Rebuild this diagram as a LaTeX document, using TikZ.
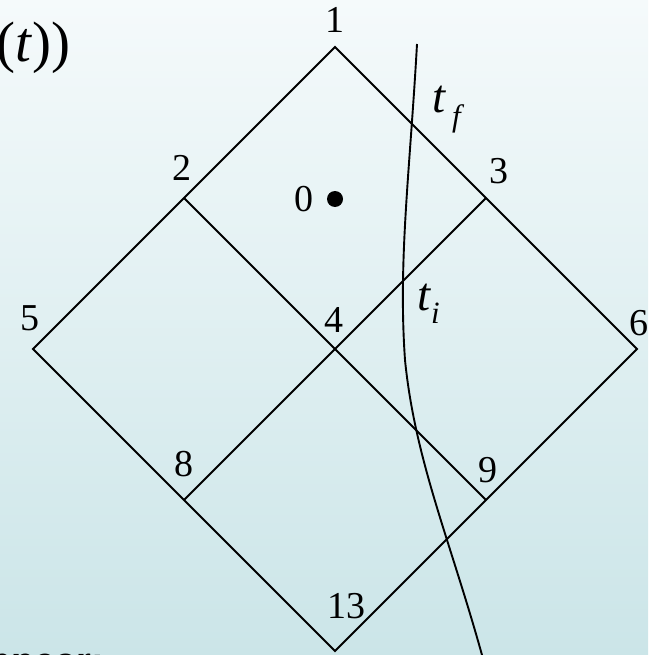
\documentclass[tikz,border=0pt]{standalone}
\usepackage{fontspec}
\setmainfont{Liberation Serif}
\newfontfamily\slidesans{Liberation Sans}
\usetikzlibrary{positioning}
\definecolor{SlideTop}{HTML}{F5FAFB}
\definecolor{SlideBottom}{HTML}{CBE5E8}
\tikzset{
  edgeline/.style={line width=2pt, draw=black},
  worldline/.style={line width=1.9pt, draw=black},
  vlbl/.style={inner sep=0pt, font=\fontsize{38}{42}\selectfont},
  tlbl/.style={inner sep=0pt, anchor=base west, font=\fontsize{47}{50}\selectfont\itshape},
  sublbl/.style={inner sep=0pt, anchor=base west, font=\fontsize{31}{34}\selectfont\itshape},
  slidetxt/.style={inner sep=0pt, anchor=base west},
}

\begin{document}
\begin{tikzpicture}[x=1pt, y=-1pt]
    \shade[top color=SlideTop, bottom color=SlideBottom] (0,0) rectangle (648,655);
    \useasboundingbox (0,0) rectangle (648,655);
    % cut-off slide text
    \node[slidetxt, font=\fontsize{57}{60}\selectfont] (eqtail) at (-4,62) {(\textit{t}))};
    \node[slidetxt, font=\slidesans\bfseries\fontsize{38}{42}\selectfont] (slidetail) at (-12,674) {ppear:};
    % lattice points
    \coordinate (v1) at (335,47);
    \coordinate (v2) at (184,198);
    \coordinate (v3) at (486,198);
    \coordinate (v4) at (335,349);
    \coordinate (v5) at (33,349);
    \coordinate (v6) at (637,349);
    \coordinate (v8) at (184,500);
    \coordinate (v9) at (486,500);
    \coordinate (v13) at (335,651);
    \draw[edgeline] (v1) -- (v6) -- (v13) -- (v5) -- cycle;
    \draw[edgeline] (v2) -- (v9);
    \draw[edgeline] (v3) -- (v8);
    \node[vlbl] (n1) at (335,20) {1};
    \node[vlbl] (n2) at (182,168) {2};
    \node[vlbl] (n3) at (499,171) {3};
    \node[vlbl] (n4) at (334,320) {4};
    \node[vlbl] (n5) at (30,318) {5};
    \node[vlbl] (n6) at (639,323) {6};
    \node[vlbl] (n8) at (184,464) {8};
    \node[vlbl] (n9) at (488,470) {9};
    \node[vlbl] (n13) at (346,606) {13};
    % point 0
    \node[circle, fill=black, inner sep=0pt, minimum size=16pt] (p0) at (335,199) {};
    \node[vlbl] (n0) at (304,199) {0};
    % world line
    \coordinate (wtop) at (417,44);
    \coordinate (wmid) at (405,360);
    \coordinate (wbot) at (482,655);
    \draw[worldline] (wtop) .. controls (410,170) and (398,260) .. (wmid)
      .. controls (415,460) and (450,540) .. (wbot);
    \node[tlbl] (tf) at (432,113) {t};
    \node[sublbl] (tfsub) at (452,127) {f};
    \node[tlbl] (ti) at (417,310) {t};
    \node[sublbl] (tisub) at (431,323) {i};
  \end{tikzpicture}
\end{document}
